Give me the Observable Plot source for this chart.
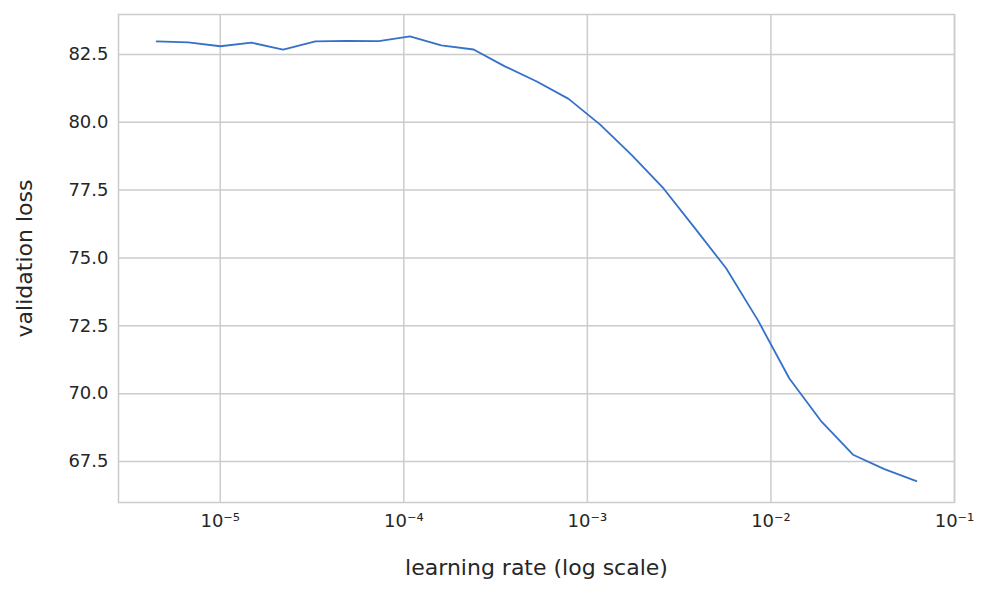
<!DOCTYPE html>
<html>
<head>
<meta charset="utf-8">
<script src="https://cdn.jsdelivr.net/npm/d3@7"></script>
<script src="https://cdn.jsdelivr.net/npm/@observablehq/plot@0.6"></script>
<style>
  body { margin: 0; background: #fff; }
  svg text { fill: #262626; }
  g[aria-label="x-axis tick label"] text, g[aria-label="y-axis tick label"] text { font-size: 18px; }
  g[aria-label="x-axis label"] text, g[aria-label="y-axis label"] text { font-size: 22px; }
</style>
</head>
<body>
<div id="chart"></div>
<script>
// learning rate sweep values
const learningRates = [4.5e-6, 6.7e-6, 1.0e-5, 1.48e-5, 2.2e-5, 3.3e-5, 4.9e-5, 7.3e-5,
  1.08e-4, 1.6e-4, 2.4e-4, 3.55e-4, 5.3e-4, 7.9e-4, 1.17e-3, 1.74e-3, 2.6e-3,
  3.85e-3, 5.7e-3, 8.5e-3, 1.26e-2, 1.87e-2, 2.8e-2, 4.15e-2, 6.2e-2];
const valLoss = [82.98, 82.94, 82.8, 82.93, 82.68, 82.98, 83.0, 82.99,
  83.16, 82.83, 82.68, 82.06, 81.5, 80.86, 79.92, 78.8, 77.56,
  76.1, 74.62, 72.7, 70.56, 69.0, 67.75, 67.22, 66.78];
const xTicks = [1e-5, 1e-4, 1e-3, 1e-2, 1e-1];
const xTickLabels = ["10\u207B\u2075", "10\u207B\u2074", "10\u207B\u00B3", "10\u207B\u00B2", "10\u207B\u00B9"];
const yTicks = [67.5, 70, 72.5, 75, 77.5, 80, 82.5];

const rows = learningRates.map((lr, i) => ({lr, loss: valLoss[i]}));
const xLabelFor = (d) => xTickLabels[xTicks.findIndex((t) => Math.abs(Math.log10(t) - Math.log10(d)) < 1e-6)];

const chart = Plot.plot({
  width: 998,
  height: 592,
  marginLeft: 118,
  marginRight: 44,
  marginTop: 14,
  marginBottom: 90,
  style: {fontFamily: "DejaVu Sans", color: "#262626"},
  x: {type: "log", domain: [2.79e-6, 0.1]},
  y: {domain: [65.99, 83.97]},
  marks: [
    Plot.gridX(xTicks, {stroke: "#cccccc", strokeOpacity: 1, strokeWidth: 1.5}),
    Plot.gridY(yTicks, {stroke: "#cccccc", strokeOpacity: 1, strokeWidth: 1.5}),
    Plot.frame({stroke: "#cccccc", strokeWidth: 1.5}),
    Plot.axisX(xTicks, {
      tickSize: 0, tickPadding: 12,
      tickFormat: xLabelFor,
      label: "learning rate (log scale)", labelAnchor: "center", labelArrow: "none", labelOffset: 72
    }),
    Plot.axisY(yTicks, {
      tickSize: 0, tickPadding: 10,
      tickFormat: (d) => d.toFixed(1),
      label: "validation loss", labelAnchor: "center", labelArrow: "none", labelOffset: 102
    }),
    Plot.line(rows, {x: "lr", y: "loss", stroke: "#3571c9", strokeWidth: 1.8})
  ]
});

document.getElementById("chart").append(chart);
</script>
</body>
</html>
